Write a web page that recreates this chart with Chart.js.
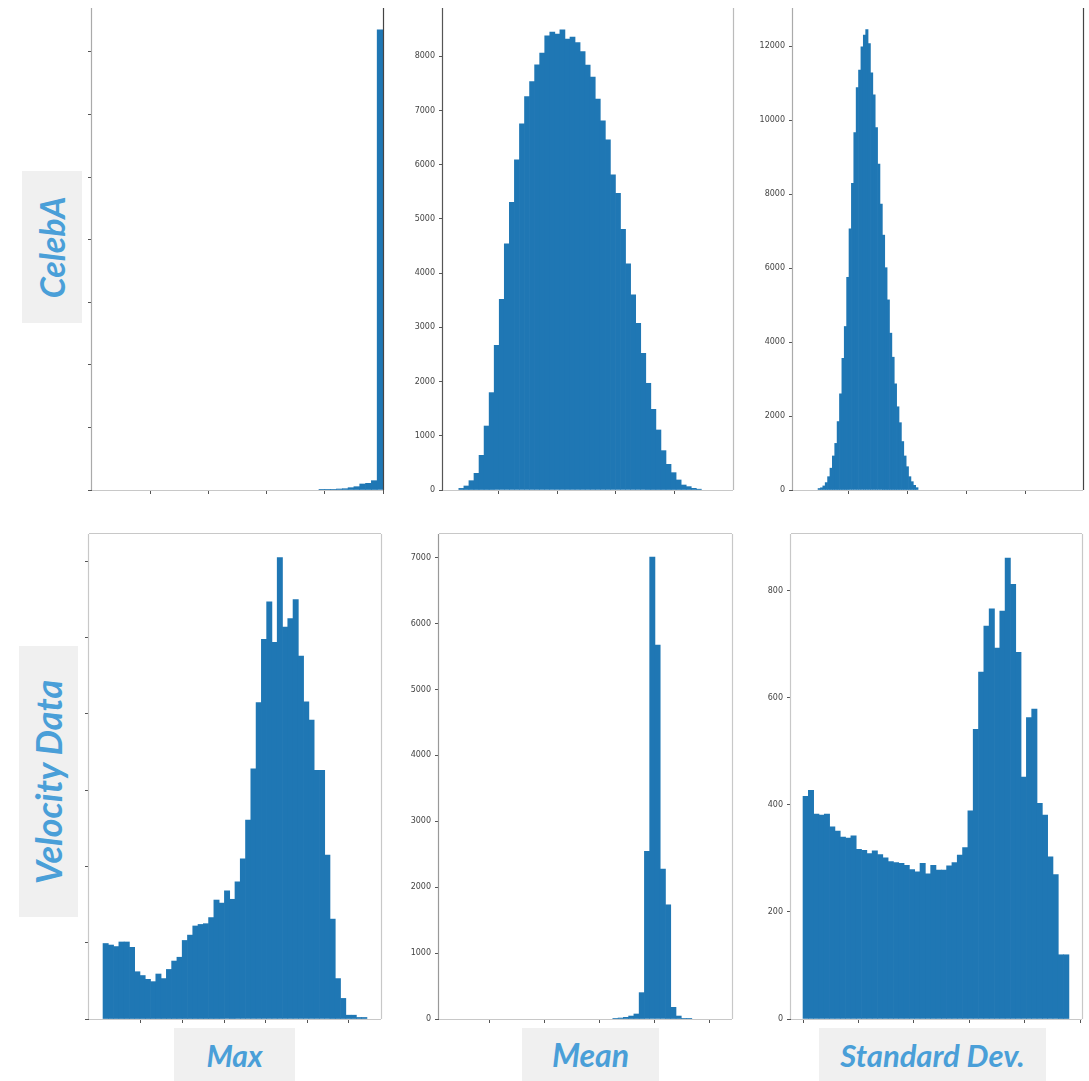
<!DOCTYPE html>
<html>
<head>
<meta charset="utf-8">
<script src="https://cdn.jsdelivr.net/npm/chart.js@4.4.0/dist/chart.umd.min.js"></script>
<style>
  body { margin: 0; background: #fff; width: 1089px; height: 1081px; position: relative; overflow: hidden; font-family: Lato, sans-serif; }
  canvas { position: absolute; }
  .tag { position: absolute; background: #f0f0f0; color: #4a9fd8; font-weight: bold; font-style: italic; font-size: 30px; display: flex; align-items: center; justify-content: center; z-index: 2; }
  .tag span { white-space: nowrap; }
  .tag.v span { transform: rotate(-90deg); }
</style>
</head>
<body>

<div class="tag v" style="left:22px;top:171px;width:60px;height:152px"><span style="font-size:34px">CelebA</span></div>
<div class="tag v" style="left:19px;top:646px;width:59px;height:271px"><span style="font-size:36px">Velocity Data</span></div>
<div class="tag" style="left:174px;top:1028px;width:121px;height:53px"><span>Max</span></div>
<div class="tag" style="left:522px;top:1028px;width:137px;height:53px"><span style="font-size:32px">Mean</span></div>
<div class="tag" style="left:819px;top:1028px;width:227px;height:53px"><span style="font-size:31px">Standard Dev.</span></div>

<script>
// histogram data (bin start, bin width, counts)

// CelebA - max
const celebMaxStart = 0.78, celebMaxWidth = 0.02;
const celebMaxCounts = [100, 220, 220, 320, 420, 740, 1060, 1920, 2140, 2980, 147000];
const celebMaxXTicks = [0.2, 0.4, 0.6, 0.8, 1.0];
const celebMaxYTicks = [0, 20000, 40000, 60000, 80000, 100000, 120000, 140000];

// CelebA - mean
const celebMeanStart = 0.064, celebMeanWidth = 0.01725;
const celebMeanCounts = [30, 74, 172, 307, 640, 1180, 1796, 2670, 3518, 4539, 5307, 6089,
  6753, 7257, 7534, 7841, 8057, 8376, 8444, 8407, 8487, 8315, 8352, 8253,
  8087, 7835, 7614, 7208, 6808, 6458, 5812, 5474, 4809, 4170, 3598, 3075,
  2522, 1968, 1488, 1107, 726, 474, 320, 185, 92, 62, 31, 15];
const celebMeanXTicks = [0.2, 0.4, 0.6, 0.8];
const celebMeanYTicks = [0, 1000, 2000, 3000, 4000, 5000, 6000, 7000, 8000];

// CelebA - standard deviation
const celebStdStart = 0.0475, celebStdWidth = 0.00404;
const celebStdCounts = [40, 60, 110, 200, 360, 590, 920, 1260, 1850, 2600, 3560, 4420,
  5750, 7060, 8290, 9660, 10880, 11350, 11980, 12300, 12450, 12070, 11280, 10680,
  9800, 8810, 7730, 6890, 6010, 5140, 4240, 3590, 2870, 2250, 1820, 1310,
  920, 630, 360, 225, 126, 63];
const celebStdXTicks = [0.1, 0.2, 0.3, 0.4];
const celebStdYTicks = [0, 2000, 4000, 6000, 8000, 10000, 12000];

// Velocity - max
const velMaxStart = 0.087, velMaxWidth = 0.1269;
const velMaxCounts = [990, 970, 950, 1010, 1010, 940, 620, 570, 520, 490, 590, 530,
  650, 760, 810, 1030, 1100, 1220, 1240, 1250, 1330, 1560, 1520, 1680,
  1570, 1800, 2100, 2610, 3280, 4150, 4980, 5470, 4940, 6050, 5140, 5250,
  5500, 4760, 4160, 3920, 3260, 3260, 2150, 1310, 530, 270, 50, 50, 20, 20];
const velMaxXTicks = [1, 2, 3, 4, 5, 6];
const velMaxYTicks = [0, 1000, 2000, 3000, 4000, 5000, 6000];

// Velocity - mean
const velMeanStart = 3.244, velMeanWidth = 0.0957;
const velMeanCounts = [10, 15, 25, 45, 76, 400, 2543, 7011, 5674, 2275, 1733, 177, 45, 10, 5];
const velMeanXTicks = [1, 2, 3, 4, 5];
const velMeanYTicks = [0, 1000, 2000, 3000, 4000, 5000, 6000, 7000];

// Velocity - standard deviation
const velStdStart = 0, velStdWidth = 0.096;
const velStdCounts = [416, 427, 383, 381, 383, 359, 351, 340, 338, 342, 317, 315,
  309, 314, 307, 301, 294, 292, 291, 287, 279, 275, 291, 271,
  287, 278, 278, 286, 292, 306, 320, 389, 541, 648, 734, 766,
  693, 762, 861, 812, 685, 452, 563, 579, 403, 381, 303, 270, 120, 120];
const velStdXTicks = [0, 1, 2, 3, 4, 5];
const velStdYTicks = [0, 200, 400, 600, 800];


// layout of each plot area on the page
const PAD_L = 45, PAD_T = 10, PAD_R = 4, AXIS_H = 14;

function binPoints(start, width, counts) {
  return counts.map((c, i) => ({ x: start + (i + 0.5) * width, y: c }));
}

// draws the box lines round the plot area
function spinePlugin(sp) {
  return {
    id: 'spines',
    afterDraw(chart) {
      const a = chart.chartArea;
      const ctx = chart.ctx;
      const line = (x1, y1, x2, y2, col) => {
        if (!col) return;
        ctx.save();
        ctx.strokeStyle = col;
        ctx.lineWidth = 1.2;
        ctx.beginPath();
        ctx.moveTo(x1, y1);
        ctx.lineTo(x2, y2);
        ctx.stroke();
        ctx.restore();
      };
      line(a.left - 0.5, a.top, a.left - 0.5, a.bottom, sp.left);
      line(a.right + 0.5, a.top, a.right + 0.5, a.bottom, sp.right);
      line(a.left, a.bottom + 0.5, a.right, a.bottom + 0.5, sp.bottom);
      line(a.left, a.top - 0.5, a.right, a.top - 0.5, sp.top);
    }
  };
}

function makePanel(box, xmin, xmax, ymax, start, width, counts, xTicks, yTicks, showY, sp) {
  const canvas = document.createElement('canvas');
  const w = (box.right - box.left) + PAD_L + PAD_R;
  const h = (box.bottom - box.top) + PAD_T + AXIS_H;
  canvas.width = w;
  canvas.height = h;
  canvas.style.left = (box.left - PAD_L) + 'px';
  canvas.style.top = (box.top - PAD_T) + 'px';
  document.body.appendChild(canvas);

  new Chart(canvas, {
    type: 'bar',
    data: {
      datasets: [{
        data: binPoints(start, width, counts),
        backgroundColor: '#1f77b4',
        borderWidth: 0,
        barPercentage: 1,
        categoryPercentage: 1
      }]
    },
    options: {
      responsive: false,
      animation: false,
      events: [],
      layout: { padding: { top: PAD_T, right: PAD_R, left: 0, bottom: 0 } },
      plugins: { legend: { display: false }, tooltip: { enabled: false } },
      scales: {
        x: {
          type: 'linear',
          min: xmin,
          max: xmax,
          offset: false,
          border: { display: false },
          grid: { offset: false, drawOnChartArea: false, color: '#555', tickLength: 4 },
          ticks: { display: false },
          afterBuildTicks: s => { s.ticks = xTicks.map(v => ({ value: v })); },
          afterFit: s => { s.height = AXIS_H; }
        },
        y: {
          min: 0,
          max: ymax,
          border: { display: false },
          grid: { drawOnChartArea: false, color: '#555', tickLength: 4 },
          ticks: {
            display: showY,
            padding: 4,
            color: '#444',
            font: { family: 'DejaVu Sans', size: 8 },
            callback: v => String(v)
          },
          afterBuildTicks: s => { s.ticks = yTicks.map(v => ({ value: v })); },
          afterFit: s => { s.width = PAD_L; }
        }
      }
    },
    plugins: [spinePlugin(sp)]
  });
}

const light = '#c8c8c8';

makePanel({ left: 92, top: 8, right: 383, bottom: 490 }, 0, 1, 154000,
  celebMaxStart, celebMaxWidth, celebMaxCounts, celebMaxXTicks, celebMaxYTicks, false,
  { left: '#aaa', right: '#444', bottom: light });

makePanel({ left: 443, top: 8, right: 733, bottom: 490 }, 0.01, 1.0, 8890,
  celebMeanStart, celebMeanWidth, celebMeanCounts, celebMeanXTicks, celebMeanYTicks, true,
  { left: '#555', right: '#bbb', bottom: light });

makePanel({ left: 793, top: 8, right: 1083, bottom: 490 }, 0.005, 0.497, 13030,
  celebStdStart, celebStdWidth, celebStdCounts, celebStdXTicks, celebStdYTicks, true,
  { left: '#aaa', right: '#444', bottom: light });

makePanel({ left: 89, top: 534, right: 381, bottom: 1019 }, -0.25, 6.77, 6360,
  velMaxStart, velMaxWidth, velMaxCounts, velMaxXTicks, velMaxYTicks, false,
  { left: light, right: light, bottom: light, top: light });

makePanel({ left: 439, top: 534, right: 732, bottom: 1019 }, 0.085, 5.41, 7360,
  velMeanStart, velMeanWidth, velMeanCounts, velMeanXTicks, velMeanYTicks, true,
  { left: '#999', right: light, bottom: light, top: light });

makePanel({ left: 791, top: 534, right: 1082, bottom: 1019 }, -0.217, 5.036, 906,
  velStdStart, velStdWidth, velStdCounts, velStdXTicks, velStdYTicks, true,
  { left: light, right: light, bottom: light, top: light });
</script>
</body>
</html>
